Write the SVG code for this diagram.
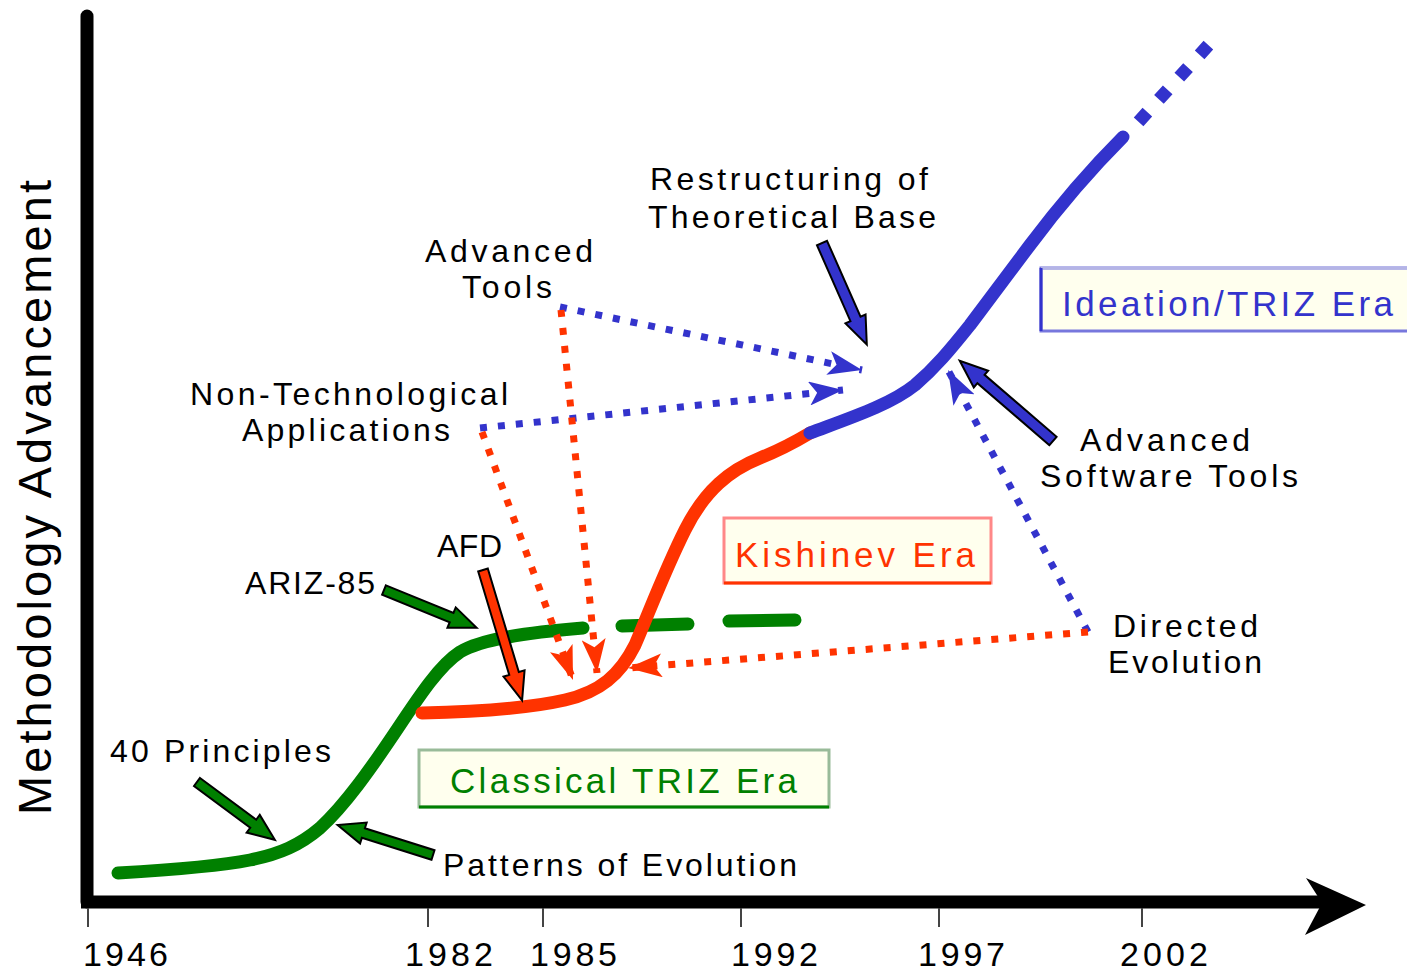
<svg xmlns="http://www.w3.org/2000/svg" width="1407" height="972" viewBox="0 0 1407 972">
<style>
text{font-family:"Liberation Sans",Arial,sans-serif;fill:#000}
.lbl{font-size:32px}
.yr{font-size:34px}
.era{font-size:35px}
.dot{fill:none;stroke-width:7;stroke-dasharray:7 11}
.blk{stroke:#000;stroke-width:2;stroke-linejoin:miter}
.crv{fill:none;stroke-width:13;stroke-linecap:round;stroke-linejoin:round}
</style>
<defs>
<marker id="ab" markerUnits="userSpaceOnUse" markerWidth="34" markerHeight="24" refX="34" refY="12" orient="auto" viewBox="0 0 34 24"><path d="M0,0 L34,12 L0,24 L8,12 Z" fill="#3333cc"/></marker>
<marker id="ar" markerUnits="userSpaceOnUse" markerWidth="34" markerHeight="24" refX="34" refY="12" orient="auto" viewBox="0 0 34 24"><path d="M0,0 L34,12 L0,24 L8,12 Z" fill="#ff3300"/></marker>
</defs>
<rect width="1407" height="972" fill="#fff"/>

<g id="axes">
<line x1="87" y1="16" x2="87" y2="902" stroke="#000" stroke-width="13" stroke-linecap="round"/>
<line x1="81" y1="902" x2="1322" y2="902" stroke="#000" stroke-width="13"/>
<polygon points="1306,878 1366,905 1305,935 1322,903" fill="#000"/>
<g stroke="#444" stroke-width="2">
<line x1="88" y1="908" x2="88" y2="927"/>
<line x1="428" y1="908" x2="428" y2="927"/>
<line x1="543" y1="908" x2="543" y2="927"/>
<line x1="741" y1="908" x2="741" y2="927"/>
<line x1="939" y1="908" x2="939" y2="927"/>
<line x1="1142" y1="908" x2="1142" y2="927"/>
</g>
<text class="yr" x="83" y="966" textLength="85">1946</text>
<text class="yr" x="405" y="966" textLength="88">1982</text>
<text class="yr" x="530" y="966" textLength="87">1985</text>
<text class="yr" x="731" y="966" textLength="87">1992</text>
<text class="yr" x="918" y="966" textLength="87">1997</text>
<text class="yr" x="1120" y="966" textLength="88">2002</text>
<text transform="translate(51,815) rotate(-90)" font-size="47" textLength="635">Methodology Advancement</text>
</g>

<g id="connectors">
<path class="crv" stroke="#008000" d="M118,873 C170,870 220,866 250,860 C280,854 300,845 320,828 C345,805 370,770 400,725 C420,695 440,665 460,652 C480,640 520,633 583,628"/>
<line class="crv" stroke="#008000" x1="622" y1="626" x2="688" y2="624"/>
<line class="crv" stroke="#008000" x1="729" y1="621" x2="795" y2="620"/>
<path class="crv" stroke="#ff3300" stroke-linecap="butt" d="M422,713 C470,712 530,708 565,700 C600,692 620,675 635,645 C650,610 665,570 685,530 C705,490 730,470 760,458 C780,450 795,442 810,433"/>
<path class="crv" stroke="#3333cc" stroke-linecap="butt" d="M810,433 C850,418 890,405 915,385 C935,368 950,350 970,325 L1030,245 C1060,205 1090,170 1123,137"/>
<line x1="1138.6" y1="121.8" x2="1208.4" y2="45.2" stroke="#3333cc" stroke-width="13" stroke-dasharray="13 17.2"/>

<line class="dot" stroke="#3333cc" x1="560" y1="307" x2="862" y2="370" marker-end="url(#ab)"/>
<line class="dot" stroke="#3333cc" x1="480" y1="428" x2="843" y2="390" marker-end="url(#ab)"/>
<line class="dot" stroke="#3333cc" x1="1088" y1="632" x2="948" y2="370" marker-end="url(#ab)"/>
<line class="dot" stroke="#ff3300" x1="561" y1="310" x2="597" y2="673" marker-end="url(#ar)"/>
<line class="dot" stroke="#ff3300" x1="482" y1="432" x2="573" y2="680" marker-end="url(#ar)"/>
<line class="dot" stroke="#ff3300" x1="1088" y1="632" x2="628" y2="668" marker-end="url(#ar)"/>

<path class="blk" fill="#008000" transform="translate(197,782) rotate(36.6)" d="M0,-5 L70,-5 L70,-11 L97,0 L70,11 L70,5 L0,5 Z"/>
<path class="blk" fill="#008000" transform="translate(433,855) rotate(-162.5)" d="M0,-5 L73,-5 L73,-11 L100,0 L73,11 L73,5 L0,5 Z"/>
<path class="blk" fill="#008000" transform="translate(384,590) rotate(22.2)" d="M0,-5 L73,-5 L73,-11 L100,0 L73,11 L73,5 L0,5 Z"/>
<path class="blk" fill="#ff3300" transform="translate(483,570) rotate(73.3)" d="M0,-5 L108,-5 L108,-11 L136,0 L108,11 L108,5 L0,5 Z"/>
<path class="blk" fill="#3333cc" transform="translate(822,243) rotate(66.2)" d="M0,-5.5 L83,-5.5 L83,-11 L111,0 L83,11 L83,5.5 L0,5.5 Z"/>
<path class="blk" fill="#3333cc" transform="translate(1053,441) rotate(-139.3)" d="M0,-5.5 L95,-5.5 L95,-11 L123,0 L95,11 L95,5.5 L0,5.5 Z"/>
</g>

<g id="ideation-era">
<rect x="1041" y="268" width="380" height="63" fill="#ffffee" stroke="#7777dd" stroke-width="3"/>
<line x1="1041" y1="268" x2="1410" y2="268" stroke="#b4b4e6" stroke-width="3"/>
<line x1="1041" y1="268" x2="1041" y2="331" stroke="#3333cc" stroke-width="3"/>
<text class="era" x="1062" y="316" style="fill:#3333cc" textLength="331">Ideation/TRIZ Era</text>
</g>

<g id="kishinev-era">
<rect x="724" y="518" width="267" height="65" fill="#ffffee" stroke="#ff8888" stroke-width="3"/>
<line x1="724" y1="583" x2="991" y2="583" stroke="#ff3300" stroke-width="3"/>
<text class="era" x="735" y="567" style="fill:#ff3300" textLength="240">Kishinev Era</text>
</g>

<g id="classical-era">
<rect x="419" y="750" width="410" height="57" fill="#ffffee" stroke="#99bb99" stroke-width="3"/>
<line x1="419" y1="807" x2="829" y2="807" stroke="#008000" stroke-width="3"/>
<text class="era" x="450" y="793" style="fill:#008000" textLength="347">Classical TRIZ Era</text>
</g>

<g id="restructuring">
<text class="lbl" x="650" y="190" textLength="278">Restructuring of</text>
<text class="lbl" x="648" y="228" textLength="288">Theoretical Base</text>
</g>
<g id="advanced-tools">
<text class="lbl" x="425" y="262" textLength="168">Advanced</text>
<text class="lbl" x="462" y="298" textLength="90">Tools</text>
</g>
<g id="non-technological">
<text class="lbl" x="190" y="405" textLength="318">Non-Technological</text>
<text class="lbl" x="242" y="441" textLength="208">Applications</text>
</g>
<g id="afd"><text class="lbl" x="437" y="557" textLength="65">AFD</text></g>
<g id="ariz-85"><text class="lbl" x="245" y="594" textLength="130">ARIZ-85</text></g>
<g id="principles"><text class="lbl" x="110" y="762" textLength="221">40 Principles</text></g>
<g id="patterns"><text class="lbl" x="443" y="876" textLength="354">Patterns of Evolution</text></g>
<g id="software-tools">
<text class="lbl" x="1080" y="451" textLength="170">Advanced</text>
<text class="lbl" x="1040" y="487" textLength="258">Software Tools</text>
</g>
<g id="directed-evolution">
<text class="lbl" x="1113" y="637" textLength="145">Directed</text>
<text class="lbl" x="1108" y="673" textLength="154">Evolution</text>
</g>
</svg>
